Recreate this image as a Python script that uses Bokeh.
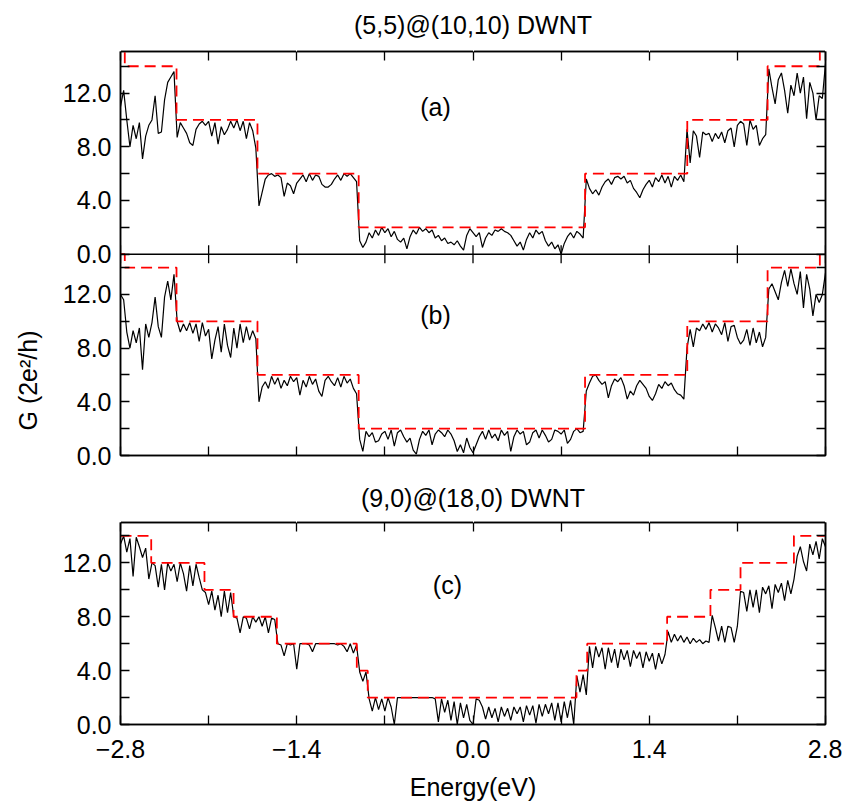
import numpy as np
from bokeh.plotting import figure
from bokeh.layouts import column
from bokeh.models import ColumnDataSource, Range1d, LinearAxis, FixedTicker, Label, Span, Title
from bokeh.transform import dodge
from bokeh.embed import file_html
from bokeh.resources import INLINE

FONT = "Liberation Sans"

# ---------------- data ----------------
ENERGY = [round(-2.8 + 0.025 * k, 3) for k in range(225)]   # sampling grid (eV)

G_A = [
    11.0, 12.2, 10.0, 8.0, 9.6, 8.6, 9.8, 7.1, 8.8, 9.6,
    10.0, 11.8, 9.0, 9.1, 11.5, 12.8, 13.2, 13.6, 8.7, 9.8,
    9.4, 9.0, 8.3, 8.1, 9.3, 9.7, 9.9, 9.6, 9.9, 8.8,
    9.8, 8.2, 9.5, 8.9, 9.3, 9.9, 9.4, 10.0, 9.2, 9.9,
    8.6, 9.8, 9.2, 7.9, 3.6, 4.6, 5.6, 5.9, 6.0, 5.8,
    5.9, 5.7, 4.3, 5.3, 5.1, 4.5, 5.3, 5.6, 5.9, 5.4,
    6.0, 5.5, 5.9, 5.8, 5.2, 5.0, 5.0, 5.2, 5.6, 5.9,
    5.5, 6.0, 5.8, 6.0, 5.7, 5.4, 1.0, 0.5, 0.9, 1.6,
    1.2, 1.8, 1.4, 2.0, 1.6, 1.9, 1.3, 1.7, 1.1, 0.9,
    1.2, 0.4, 1.3, 1.8, 1.5, 2.0, 1.7, 1.9, 1.6, 1.8,
    1.2, 1.4, 1.0, 1.2, 0.8, 0.9, 0.7, 1.0, 0.6, 0.3,
    1.4, 1.9, 1.6, 1.3, 1.6, 0.5, 1.2, 1.6, 1.4, 1.8,
    1.7, 1.9, 1.7, 1.6, 1.4, 1.0, 0.6, 0.9, 0.3, 1.1,
    1.6, 1.2, 1.8, 1.5, 1.7, 1.0, 0.6, 0.9, 0.4, 0.7,
    0.0, 0.8, 1.3, 1.6, 1.2, 1.7, 1.5, 1.2, 5.6, 4.9,
    4.5, 4.8, 4.4, 5.0, 5.4, 5.6, 5.2, 5.7, 5.8, 5.6,
    5.8, 5.3, 5.5, 4.9, 4.6, 4.2, 4.8, 5.2, 5.5, 5.0,
    5.7, 5.4, 5.9, 5.3, 5.8, 5.0, 5.8, 5.5, 5.9, 5.4,
    9.3, 6.8, 9.2, 8.8, 7.2, 9.1, 8.9, 9.0, 8.4, 9.0,
    8.6, 9.1, 8.3, 9.2, 9.4, 8.0, 9.6, 9.9, 9.7, 8.1,
    10.0, 9.3, 9.6, 8.1, 8.6, 8.9, 13.8, 12.4, 11.2, 13.0,
    13.5, 12.2, 10.5, 12.6, 11.8, 13.5, 12.0, 13.2, 10.1, 12.8,
    12.0, 10.0, 11.8, 11.6, 14.2,
]

G_B = [
    12.0, 11.6, 9.2, 8.0, 9.3, 8.4, 9.5, 6.4, 9.8, 8.8,
    9.9, 11.8, 9.6, 8.8, 11.8, 13.0, 11.6, 13.5, 10.0, 9.2,
    9.8, 9.3, 9.9, 9.1, 9.8, 8.5, 9.9, 8.9, 9.4, 7.2,
    8.6, 9.6, 7.7, 9.8, 8.2, 7.3, 9.5, 8.0, 9.8, 8.4,
    9.6, 8.6, 9.3, 8.7, 4.0, 5.1, 5.5, 5.0, 5.9, 5.3,
    5.8, 5.0, 5.6, 5.2, 5.9, 5.5, 5.8, 4.5, 5.6, 5.1,
    5.9, 5.3, 5.7, 4.8, 4.4, 5.6, 5.9, 5.5, 5.2, 5.8,
    5.1, 5.9, 5.4, 5.7, 5.0, 4.6, 1.2, 0.3, 1.8, 1.4,
    1.7, 1.0, 1.1, 1.6, 1.8, 1.2, 1.9, 0.7, 1.7, 1.9,
    1.4, 1.0, 1.3, 0.4, 0.1, 1.2, 1.8, 1.5, 1.9, 0.8,
    1.6, 1.9, 1.7, 1.4, 1.9, 1.6, 1.1, 0.3, 0.8, 0.2,
    1.3, 0.6, 0.2, 0.8, 1.4, 1.8, 1.2, 1.9, 1.3, 1.6,
    1.1, 1.9, 1.5, 1.8, 0.3, 1.4, 1.9, 1.6, 1.8, 0.8,
    1.0, 1.7, 1.9, 1.3, 1.9, 1.5, 1.0, 1.2, 1.9, 1.8,
    1.6, 1.9, 0.9, 1.2, 1.8, 2.0, 1.7, 1.8, 4.8, 5.4,
    5.9, 6.0, 5.6, 5.3, 5.5, 4.3, 5.2, 5.7, 5.5, 5.8,
    5.2, 4.2, 4.8, 4.5, 5.2, 5.6, 5.3, 5.0, 4.4, 4.1,
    4.6, 5.3, 5.0, 5.5, 5.2, 5.4, 4.9, 4.6, 4.5, 4.2,
    8.0, 9.4, 8.1, 9.5, 9.3, 9.8, 9.4, 9.9, 9.2, 9.8,
    9.5, 9.0, 9.9, 8.5, 9.6, 9.7, 8.8, 8.3, 8.6, 9.4,
    8.2, 9.5, 8.4, 9.2, 8.1, 8.8, 12.4, 12.8, 12.2, 11.6,
    12.9, 13.8, 12.6, 13.9, 12.8, 12.0, 13.7, 11.0, 13.5, 12.4,
    10.4, 12.0, 11.4, 12.0, 13.6,
]

G_C = [
    13.4, 14.0, 12.8, 13.8, 11.0, 13.9, 13.2, 12.4, 13.1, 10.8,
    12.0, 11.8, 10.2, 11.9, 10.0, 12.0, 11.4, 11.9, 10.6, 12.0,
    11.2, 9.9, 11.8, 10.3, 11.9, 10.9, 10.0, 9.8, 8.9, 9.9,
    8.5, 9.6, 8.0, 9.9, 8.3, 9.8, 8.0, 7.9, 6.8, 8.0,
    7.9, 7.1, 8.0, 7.6, 8.0, 7.3, 8.0, 6.8, 7.9, 7.8,
    6.0, 5.9, 5.1, 6.0, 5.9, 6.0, 4.1, 6.0, 6.0, 6.0,
    5.9, 5.4, 6.0, 6.0, 6.0, 6.0, 6.0, 6.0, 6.0, 5.9,
    6.0, 5.8, 5.4, 6.0, 5.3, 5.9, 3.9, 3.2, 3.9, 1.9,
    1.0, 2.0, 1.1, 1.9, 1.0, 2.0, 1.3, 0.0, 2.0, 2.0,
    2.0, 2.0, 2.0, 2.0, 2.0, 2.0, 2.0, 2.0, 2.0, 2.0,
    1.9, 0.2, 1.9, 0.9, 1.8, 0.3, 1.7, 0.0, 1.6, 0.5,
    1.5, 0.3, 0.0, 1.9, 1.8, 1.3, 0.4, 1.3, 0.5, 1.2,
    0.2, 1.3, 0.6, 1.2, 0.3, 1.3, 0.8, 1.3, 0.2, 1.4,
    0.7, 1.4, 0.1, 1.5, 0.6, 1.5, 0.8, 1.6, 0.3, 1.6,
    0.2, 1.7, 0.5, 1.8, 0.0, 3.6, 2.4, 3.7, 2.2, 5.8,
    4.2, 5.8, 5.0, 5.7, 4.1, 5.7, 4.6, 5.6, 4.2, 5.6,
    4.8, 5.5, 4.3, 5.5, 4.9, 5.4, 4.2, 5.4, 4.7, 5.3,
    4.1, 5.3, 4.5, 5.2, 6.9, 6.1, 6.7, 6.2, 6.6, 6.1,
    6.5, 6.0, 6.4, 6.1, 6.3, 6.0, 6.2, 6.1, 8.1, 7.2,
    6.2, 7.3, 6.1, 7.3, 7.2, 6.1, 7.3, 9.9, 9.8, 8.4,
    10.0, 8.7, 10.0, 8.3, 10.2, 9.7, 10.3, 8.6, 10.4, 9.8,
    10.5, 9.2, 10.7, 9.7, 10.8, 12.5, 13.2, 12.1, 11.4, 13.4,
    12.6, 13.6, 12.3, 13.8, 13.2,
]

# ideal (step) conductance: band edges (eV) and plateau levels (2e^2/h)
STEP_AB_EDGES = [-2.766, -2.355, -1.712, -0.908, 0.89, 1.702, 2.34, 2.755]
STEP_A_LEVELS = [16, 14, 10, 6, 2, 6, 10, 14, 16]
STEP_B_LEVELS = [15, 14, 10, 6, 2, 6, 10, 14, 15]
STEP_C_EDGES = [-2.556, -2.133, -1.902, -1.558, -0.923, -0.836,
                0.822, 0.907, 1.542, 1.886, 2.125, 2.549]
STEP_C_LEVELS = [14, 12, 10, 8, 6, 4, 2, 4, 6, 8, 10, 12, 14]

X_TICKS = [-2.8, -1.4, 0.0, 1.4, 2.8]
X_TICK_LABELS = ["\u22122.8", "\u22121.4", "0.0", "1.4", "2.8"]
X_MINOR = [-2.1, -0.7, 0.7, 2.1]
Y_TICKS = [0, 4, 8, 12]
Y_TICK_LABELS = ["0.0", "4.0", "8.0", "12.0"]
Y_MINOR = [2, 6, 10, 14]

TITLE_AB = "(5,5)@(10,10) DWNT"
TITLE_C = "(9,0)@(18,0) DWNT"
Y_LABEL = "G (2e\u00b2/h)"
X_LABEL = "Energy(eV)"

# panel (b) occupies 0..Y_SPLIT, panel (a) is stacked above it
Y_SPLIT = 15.0
A_TOP = 15.1


def step_xy(edges, levels, x0=-2.8, x1=2.8):
    xs, ys = [x0], [levels[0]]
    for e, lo, hi in zip(edges, levels[:-1], levels[1:]):
        xs += [e, e]
        ys += [lo, hi]
    xs.append(x1)
    ys.append(levels[-1])
    return xs, ys


def add_axis(p, side, ticks, minor, overrides=None, labels=True, standoff=9,
             axis_label=None, label_standoff=3):
    ax = LinearAxis(ticker=FixedTicker(ticks=ticks, minor_ticks=minor))
    ax.major_tick_in = 9
    ax.major_tick_out = 0
    ax.minor_tick_in = 9
    ax.minor_tick_out = 0
    ax.major_tick_line_width = 1.3
    ax.minor_tick_line_width = 1.3
    ax.major_tick_line_color = "black"
    ax.minor_tick_line_color = "black"
    ax.axis_line_width = 1.5
    ax.axis_line_color = "black"
    if labels:
        ax.major_label_overrides = overrides
        ax.major_label_text_font = FONT
        ax.major_label_text_font_size = "25px"
        ax.major_label_text_color = "black"
        ax.major_label_standoff = standoff
    else:
        ax.major_label_text_font_size = "0px"
        ax.major_label_text_alpha = 0
        ax.major_label_standoff = 0
    if axis_label:
        ax.axis_label = axis_label
        ax.axis_label_text_font = FONT
        ax.axis_label_text_font_size = "25px"
        ax.axis_label_text_font_style = "normal"
        ax.axis_label_text_color = "black"
        ax.axis_label_standoff = label_standoff
    p.add_layout(ax, side)
    return ax


def add_spacer(p, side, ticks, gap):
    """Invisible axis that only reserves `gap` pixels of border."""
    ax = LinearAxis(ticker=FixedTicker(ticks=ticks, minor_ticks=[]))
    ax.major_tick_in = 0
    ax.major_tick_out = gap
    ax.minor_tick_in = 0
    ax.minor_tick_out = 0
    ax.major_tick_line_color = "white"
    ax.minor_tick_line_color = None
    ax.axis_line_color = None
    ax.major_label_text_font_size = "0px"
    ax.major_label_text_alpha = 0
    ax.major_label_standoff = 0
    p.add_layout(ax, side)


def make_fig(height, y_top, title, top_border, bottom_border, title_standoff):
    p = figure(width=842, height=height, x_range=Range1d(-2.8, 2.8),
               y_range=Range1d(0, y_top), output_backend="svg",
               toolbar_location=None, x_axis_location=None, y_axis_location=None,
               min_border_left=120, min_border_right=17,
               min_border_top=top_border, min_border_bottom=bottom_border,
               title=title)
    p.title.align = "center"
    p.title.text_font = FONT
    p.title.text_font_size = "25px"
    p.title.text_font_style = "normal"
    p.title.text_color = "black"
    p.title.standoff = title_standoff
    p.outline_line_color = "black"
    p.outline_line_width = 1.5
    p.background_fill_color = "white"
    p.border_fill_color = "white"
    p.xgrid.visible = False
    p.ygrid.visible = False
    return p


def text_label(p, x, y, text):
    p.add_layout(Label(x=x, y=y, text=text, text_font=FONT,
                       text_font_size="25px", text_color="black",
                       text_align="center", text_baseline="middle"))


x_over = {t: s for t, s in zip(X_TICKS, X_TICK_LABELS)}

# ---------------- panels (a) + (b) ----------------
p1 = make_fig(473, Y_SPLIT + A_TOP, TITLE_AB, 51, 18, 9)
ab_ticks = Y_TICKS + [t + Y_SPLIT for t in Y_TICKS]
ab_minor = Y_MINOR + [t + Y_SPLIT for t in Y_MINOR if t + Y_SPLIT < Y_SPLIT + A_TOP]
ab_over = {}
for t, s in zip(Y_TICKS, Y_TICK_LABELS):
    ab_over[t] = s
    ab_over[t + Y_SPLIT] = s
add_axis(p1, "left", ab_ticks, ab_minor, ab_over, labels=True, standoff=9)
add_spacer(p1, "left", ab_ticks, 7)
add_axis(p1, "right", ab_ticks, ab_minor, labels=False)
add_axis(p1, "above", X_TICKS, X_MINOR, labels=False)
add_spacer(p1, "above", X_TICKS, 8)
add_axis(p1, "below", X_TICKS, X_MINOR, labels=False)

# vertical axis title, placed beside panel (b)
p1.add_layout(Title(text=Y_LABEL, align="left", offset=25, text_font=FONT,
                    text_font_size="25px", text_font_style="normal",
                    text_color="black", standoff=22), "left")

# boundary between panel (a) and (b), with in-pointing ticks on both sides
p1.add_layout(Span(location=Y_SPLIT, dimension="width", line_color="black",
                   line_width=1.5))
p1.scatter(x=X_TICKS + X_MINOR, y=[Y_SPLIT] * (len(X_TICKS) + len(X_MINOR)),
           marker="dash", angle=np.pi / 2, size=18, line_color="black",
           line_width=1.3)

src_a = ColumnDataSource(dict(e=ENERGY, g=G_A))
src_b = ColumnDataSource(dict(e=ENERGY, g=G_B))
sa_x, sa_y = step_xy(STEP_AB_EDGES, STEP_A_LEVELS)
sb_x, sb_y = step_xy(STEP_AB_EDGES, STEP_B_LEVELS)
step_a = ColumnDataSource(dict(e=sa_x, g=sa_y))
step_b = ColumnDataSource(dict(e=sb_x, g=sb_y))

p1.line(x="e", y="g", source=src_b, line_color="black", line_width=1.2)
p1.line(x="e", y=dodge("g", Y_SPLIT), source=src_a, line_color="black", line_width=1.2)
p1.line(x="e", y="g", source=step_b, line_color="#ff0000", line_width=1.8,
        line_dash="11 6")
p1.line(x="e", y=dodge("g", Y_SPLIT), source=step_a, line_color="#ff0000",
        line_width=1.8, line_dash="11 6")

text_label(p1, -0.298, 10.93 + Y_SPLIT, "(a)")
text_label(p1, -0.298, 10.47, "(b)")

# ---------------- panel (c) ----------------
p2 = make_fig(333, 15.0, TITLE_C, 49, 82, 8)
c_over = {t: s for t, s in zip(Y_TICKS, Y_TICK_LABELS)}
add_axis(p2, "left", Y_TICKS, Y_MINOR, c_over, labels=True, standoff=9)
add_axis(p2, "right", Y_TICKS, Y_MINOR, labels=False)
add_axis(p2, "above", X_TICKS, X_MINOR, labels=False)
add_spacer(p2, "above", X_TICKS, 7)
add_axis(p2, "below", X_TICKS, X_MINOR, x_over, labels=True, standoff=15,
         axis_label=X_LABEL, label_standoff=12)

src_c = ColumnDataSource(dict(e=ENERGY, g=G_C))
sc_x, sc_y = step_xy(STEP_C_EDGES, STEP_C_LEVELS)
step_c = ColumnDataSource(dict(e=sc_x, g=sc_y))
p2.line(x="e", y="g", source=src_c, line_color="black", line_width=1.2)
p2.line(x="e", y="g", source=step_c, line_color="#ff0000", line_width=1.8,
        line_dash="11 6")
text_label(p2, -0.203, 10.33, "(c)")

layout = column(p1, p2, spacing=0)
open("out.html", "w").write(file_html(layout, INLINE))
